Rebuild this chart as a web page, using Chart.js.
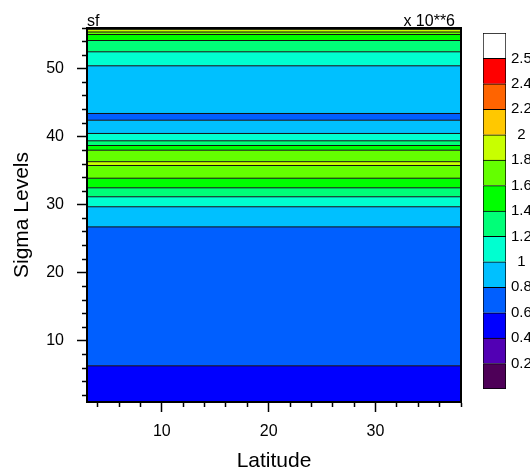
<!DOCTYPE html>
<html>
<head>
<meta charset="utf-8">
<script src="https://cdn.jsdelivr.net/npm/chart.js@4"></script>
<style>
html, body { margin: 0; padding: 0; background: #ffffff; }
#wrap { position: relative; width: 530px; height: 474px; overflow: hidden; }
#wrap canvas { position: absolute; left: 0; top: 0; }
</style>
</head>
<body>
<div id="wrap">
  <canvas id="main" width="530" height="474"></canvas>
  <canvas id="bar" width="530" height="474"></canvas>
</div>
<script>
// ---------- data ----------
const latLimits = [3, 38];
const sigmaLimits = [1, 56];
const xTickValues = [4, 6, 8, 10, 12, 14, 16, 18, 20, 22, 24, 26, 28, 30, 32, 34, 36, 38];
const xLabelValues = [10, 20, 30];
const yTickValues = [2, 4, 6, 8, 10, 12, 14, 16, 18, 20, 22, 24, 26, 28, 30, 32, 34, 36, 38, 40, 42, 44, 46, 48, 50, 52, 54, 56];
const yLabelValues = [10, 20, 30, 40, 50];

// sigma levels where sf crosses a contour level (bottom to top)
const sigmaEdges = [1, 6.32, 26.75, 29.71, 31.18, 32.5, 33.91, 35.78, 36.34, 38.03, 38.72, 39.41, 40.49, 42.44, 43.43, 50.44, 52.5, 54.16, 55.04, 55.41, 55.8, 56];
// contour class of each band between consecutive edges
const bandClass = [2, 3, 4, 5, 6, 7, 8, 9, 8, 7, 6, 5, 4, 3, 4, 5, 6, 7, 8, 9, 10];

const levelLabels = ['0.2', '0.4', '0.6', '0.8', '1', '1.2', '1.4', '1.6', '1.8', '2', '2.2', '2.4', '2.5'];
const levelColors = ['#4E0058', '#5200B4', '#0000FF', '#005FFF', '#00C0FF', '#00FFD0', '#00FF78', '#00FF00',
                     '#64FF00', '#C8FF00', '#FFC800', '#FF6400', '#FF0000', '#FFFFFF'];

const leftString = 'sf';
const rightString = 'x 10**6';
const xTitle = 'Latitude';
const yTitle = 'Sigma Levels';

// ---------- chart ----------
const FONT = "'Liberation Sans', Arial, Helvetica, sans-serif";
Chart.defaults.font.family = FONT;
Chart.defaults.color = '#000000';

const bandDatasets = bandClass.map((c, i) => ({
  data: [{x: latLimits[0], y: sigmaEdges[i + 1]}, {x: latLimits[1], y: sigmaEdges[i + 1]}],
  fill: {value: sigmaEdges[i]},
  backgroundColor: levelColors[c],
  borderColor: '#111111',
  borderWidth: 1,
  pointRadius: 0,
  tension: 0
}));

const cornerText = {
  id: 'cornerText',
  afterDraw(chart) {
    const {ctx, chartArea: a} = chart;
    ctx.save();
    ctx.font = '16px ' + FONT;
    ctx.fillStyle = '#000000';
    ctx.textBaseline = 'alphabetic';
    ctx.textAlign = 'left';
    ctx.fillText(leftString, a.left, a.top - 2);
    ctx.textAlign = 'right';
    ctx.fillText(rightString, a.right - 6, a.top - 2);
    ctx.restore();
  }
};

const isMajorX = ctx => ctx.tick && xLabelValues.includes(ctx.tick.value);
const isMajorY = ctx => ctx.tick && yLabelValues.includes(ctx.tick.value);

new Chart(document.getElementById('main'), {
  type: 'line',
  data: {datasets: bandDatasets},
  plugins: [cornerText],
  options: {
    responsive: false,
    animation: false,
    events: [],
    layout: {padding: {left: 0, right: 69, top: 28, bottom: 0}},
    plugins: {
      legend: {display: false},
      tooltip: {enabled: false},
      filler: {drawTime: 'beforeDatasetsDraw'}
    },
    scales: {
      x: {
        type: 'linear', position: 'bottom',
        min: latLimits[0], max: latLimits[1],
        afterBuildTicks: s => { s.ticks = xTickValues.map(v => ({value: v})); },
        afterFit: s => { s.height = 72; },
        ticks: {
          autoSkip: false, maxRotation: 0, padding: 10,
          font: {size: 16}, color: '#000000',
          callback: v => xLabelValues.includes(v) ? String(v) : ''
        },
        grid: {
          drawOnChartArea: false, drawTicks: true, tickLength: 10,
          tickColor: '#000000', tickWidth: 1.5,
          tickBorderDash: ctx => isMajorX(ctx) ? [] : [4, 100],
          tickBorderDashOffset: 0
        },
        border: {display: true, color: '#000000', width: 2, z: 1},
        title: {display: true, text: xTitle, font: {size: 21}, color: '#000000', padding: {top: 0, bottom: 0}}
      },
      y: {
        type: 'linear', position: 'left',
        min: sigmaLimits[0], max: sigmaLimits[1],
        afterBuildTicks: s => { s.ticks = yTickValues.map(v => ({value: v})); },
        afterFit: s => { s.width = 87; },
        ticks: {
          autoSkip: false, padding: 13,
          font: {size: 16}, color: '#000000',
          callback: v => yLabelValues.includes(v) ? String(v) : ''
        },
        grid: {
          drawOnChartArea: false, drawTicks: true, tickLength: 10,
          tickColor: '#000000', tickWidth: 1.5,
          tickBorderDash: ctx => isMajorY(ctx) ? [] : [5, 5],
          tickBorderDashOffset: ctx => isMajorY(ctx) ? 0 : 5
        },
        border: {display: true, color: '#000000', width: 2, z: 1},
        title: {display: true, text: yTitle, font: {size: 21}, color: '#000000', padding: {top: 9.4, bottom: 0}}
      },
      x2: {
        type: 'linear', position: 'top',
        min: latLimits[0], max: latLimits[1],
        ticks: {display: false},
        grid: {display: false, drawTicks: false, drawOnChartArea: false},
        border: {display: true, color: '#000000', width: 2, z: 1},
        afterFit: s => { s.height = 0; }
      },
      y2: {
        type: 'linear', position: 'right',
        min: sigmaLimits[0], max: sigmaLimits[1],
        ticks: {display: false},
        grid: {display: false, drawTicks: false, drawOnChartArea: false},
        border: {display: true, color: '#000000', width: 2, z: 1},
        afterFit: s => { s.width = 0; }
      }
    }
  }
});

// ---------- colour bar ----------
new Chart(document.getElementById('bar'), {
  type: 'bar',
  data: {
    labels: [''],
    datasets: levelColors.map((c, i) => ({
      data: [1],
      backgroundColor: c,
      borderColor: '#000000',
      borderWidth: {left: 1, right: 1, top: 1, bottom: i === 0 ? 1 : 0},
      borderSkipped: false,
      barPercentage: 1,
      categoryPercentage: 1
    }))
  },
  options: {
    responsive: false,
    animation: false,
    events: [],
    layout: {padding: {left: 483, right: 0, top: 33, bottom: 85}},
    plugins: {legend: {display: false}, tooltip: {enabled: false}},
    scales: {
      x: {display: false, stacked: true},
      y: {
        stacked: true, position: 'right',
        min: 0, max: levelColors.length,
        afterBuildTicks: s => { s.ticks = levelLabels.map((l, i) => ({value: i + 1})); },
        afterFit: s => { s.width = 24; },
        ticks: {
          autoSkip: false, crossAlign: 'center', padding: 5,
          font: {size: 15}, color: '#000000',
          callback: v => levelLabels[v - 1]
        },
        grid: {display: false, drawTicks: false, drawOnChartArea: false},
        border: {display: false}
      }
    }
  }
});
</script>
</body>
</html>
